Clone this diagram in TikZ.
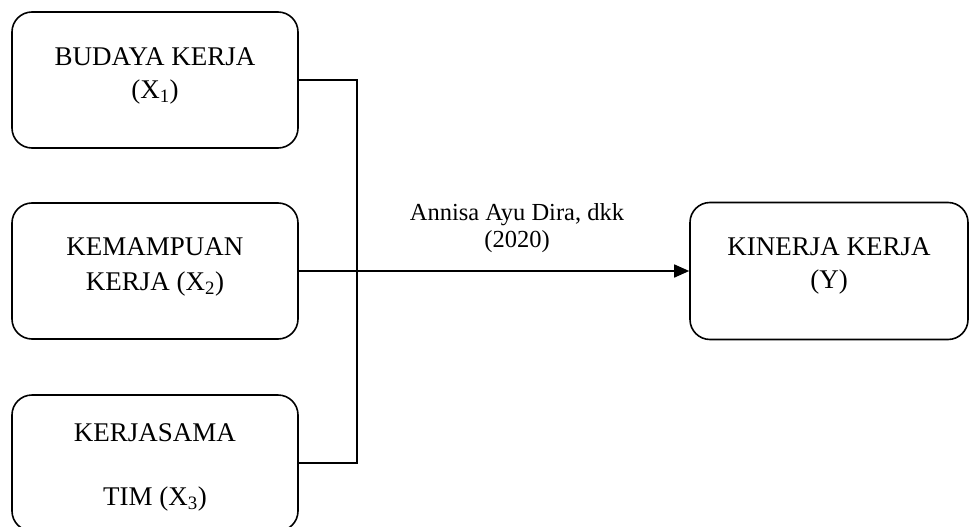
\documentclass[tikz,border=0pt]{standalone}
\usepackage{fontspec}
\setmainfont{Liberation Serif}
\usetikzlibrary{arrows.meta}

\tikzset{
  varbox/.style={draw, rounded corners=20pt, line width=1.6pt, minimum width=286pt, minimum height=136pt, inner sep=0pt},
  vartext/.style={align=center, font=\fontsize{27}{33}\selectfont},
  citetext/.style={align=center, font=\fontsize{24.5}{27}\selectfont},
  link/.style={line width=1.6pt},
}

\begin{document}
\begin{tikzpicture}[x=1pt, y=-1pt]
\useasboundingbox (0,0) rectangle (969,527);

        % Define box centers
        \coordinate (B1) at (155, 80);      % Center for X1
        \coordinate (B2) at (155, 271);     % Center for X2
        \coordinate (B3) at (155, 463);     % Center for X3
        \coordinate (BY) at (829, 271);     % Center for Y

        % Draw the boxes
        \node[varbox] (x1) at (B1) {};
        \node[varbox] (x2) at (B2) {};
        \node[varbox] (x3) at (B3) {};
        \node[varbox, minimum width=278pt, minimum height=137pt] (y) at (BY) {};

        % Texts inside the boxes
        \node[vartext] (t1) at (155, 76) {BUDAYA KERJA\\(X\textsubscript{1})};
        \node[vartext] (t2) at (155, 267) {KEMAMPUAN\\[2pt]KERJA (X\textsubscript{2})};
        \node[vartext] (t3) at (155, 467) {KERJASAMA\\[31pt]TIM (X\textsubscript{3})};
        \node[vartext] (ty) at (829, 266) {KINERJA KERJA\\(Y)};

        % Joint of the three lines
        \coordinate (bus) at (357, 271);

        % Draw the connectors
        \draw[link] (x1.east) -| (bus) |- (x3.east);
        \draw[link, -{Triangle[length=15pt, width=13pt]}] (x2.east) -- (y.west);

        % Source of the relation
        \node[citetext] (src) at (517, 228) {Annisa Ayu Dira, dkk\\(2020)};
\end{tikzpicture}
\end{document}
